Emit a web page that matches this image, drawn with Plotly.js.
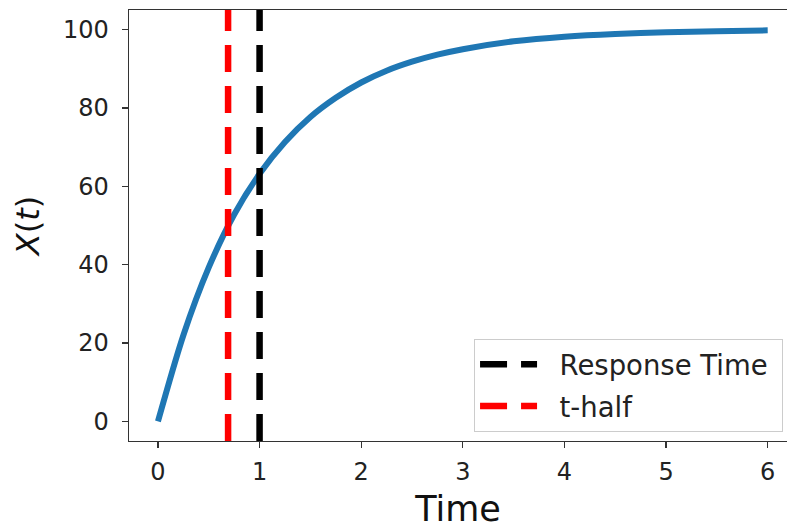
<!DOCTYPE html>
<html>
<head>
<meta charset="utf-8">
<script src="https://cdn.plot.ly/plotly-3.0.1.min.js"></script>
<style>html,body{margin:0;padding:0;background:#fff;}#chart{width:787px;height:529px;}</style>
</head>
<body>
<div id="chart"></div>
<script>
// Response curve X(t)
const timeValues = [0, 0.25, 0.5, 0.75, 1, 1.25, 1.5, 1.75, 2, 2.25, 2.5, 2.75, 3, 3.5, 4, 4.5, 5, 5.5, 6];
const xValues    = [0, 22, 39.3, 52.8, 63.2, 71.3, 77.7, 82.6, 86.5, 89.5, 91.8, 93.6, 95, 97, 98.2, 98.9, 99.3, 99.6, 99.8];

// Vertical markers
const responseTime = 1.0;
const tHalf = 0.69;
const legendLabels = ['Response Time', 't-half'];

const xTicks = [0, 1, 2, 3, 4, 5, 6];
const yTicks = [0, 20, 40, 60, 80, 100];
const yRange = [-5, 105];

const font = "DejaVu Sans, sans-serif";
const pad = '\u00a0\u00a0';

const traces = [
  {
    x: timeValues, y: xValues, mode: 'lines', type: 'scatter',
    line: {color: '#1f77b4', width: 6, shape: 'spline', smoothing: 0.8},
    showlegend: false, hoverinfo: 'skip'
  },
  {
    x: [responseTime, responseTime], y: yRange, mode: 'lines', type: 'scatter',
    name: pad + legendLabels[0] + '\u00a0', legendgroup: 'a',
    line: {color: 'black', width: 6.5, dash: '27px,14px'}
  },
  {
    x: [tHalf, tHalf], y: yRange, mode: 'lines', type: 'scatter',
    name: pad + legendLabels[1] + '\u00a0', legendgroup: 'b',
    line: {color: 'red', width: 6.5, dash: '27px,14px'}
  }
];

const layout = {
  width: 787, height: 529,
  margin: {l: 129, r: 0, t: 10, b: 88, pad: 0},
  paper_bgcolor: '#fff', plot_bgcolor: '#fff',
  font: {family: font, color: '#222', size: 24},
  showlegend: true,
  legend: {
    x: 0.994, y: 0.021, xanchor: 'right', yanchor: 'bottom',
    bgcolor: 'rgba(255,255,255,0.85)', bordercolor: '#cccccc', borderwidth: 1,
    font: {family: font, size: 27.5, color: '#222'},
    tracegroupgap: 3, itemwidth: 57
  },
  xaxis: {
    range: [-0.285, 6.19], tickvals: xTicks, ticktext: xTicks.map(String),
    showgrid: false, zeroline: false,
    showline: true, linecolor: '#333', linewidth: 1.3, mirror: true,
    ticks: 'outside', ticklen: 6, tickwidth: 1.3, tickcolor: '#333',
    ticklabelstandoff: 3,
    tickfont: {family: font, size: 24, color: '#222'},
    title: {text: 'Time', font: {family: font, size: 35, color: '#111'}, standoff: 22},
    automargin: false
  },
  yaxis: {
    range: yRange, tickvals: yTicks, ticktext: yTicks.map(String),
    showgrid: false, zeroline: false,
    showline: true, linecolor: '#333', linewidth: 1.3, mirror: false,
    ticks: 'outside', ticklen: 6, tickwidth: 1.3, tickcolor: '#333',
    ticklabelstandoff: 8,
    tickfont: {family: font, size: 24, color: '#222'},
    title: {text: '<i>X</i>(<i>t</i>)', font: {family: font, size: 32, color: '#111'}, standoff: 14},
    automargin: false
  }
};

Plotly.newPlot('chart', traces, layout, {displayModeBar: false, staticPlot: true});
</script>
</body>
</html>
